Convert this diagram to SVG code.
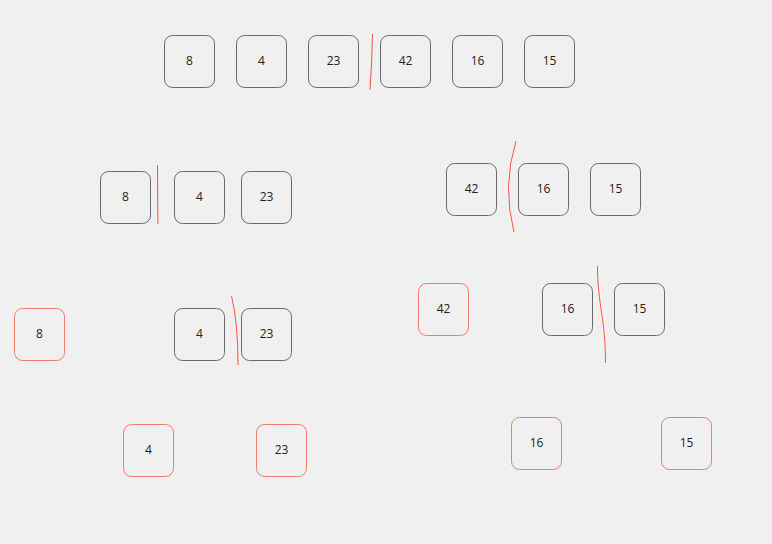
<svg xmlns="http://www.w3.org/2000/svg" width="772" height="544" viewBox="0 0 772 544">
<style>
.box{fill:#f0f0f0;stroke:#6a6a6a;stroke-width:1}
.done{fill:#f0f0f0;stroke:#f27a66;stroke-width:1}
.lbl{font-family:"Open Sans","Noto Sans",sans-serif;font-size:12px;fill:#222;text-anchor:middle;dominant-baseline:central}
.split{fill:none;stroke:#ff2a1a;stroke-width:0.8}
</style>
<rect width="772" height="544" fill="#f0f0f0"/>
<g id="row1">
<g id="n1-8"><rect class="box" x="164.5" y="35.5" width="50" height="52" rx="8"/><text class="lbl" x="189.5" y="60.5">8</text></g>
<g id="n1-4"><rect class="box" x="236.5" y="35.5" width="50" height="52" rx="8"/><text class="lbl" x="261.5" y="60.5">4</text></g>
<g id="n1-23"><rect class="box" x="308.5" y="35.5" width="50" height="52" rx="8"/><text class="lbl" x="333.5" y="60.5">23</text></g>
<g id="n1-42"><rect class="box" x="380.5" y="35.5" width="50" height="52" rx="8"/><text class="lbl" x="405.5" y="60.5">42</text></g>
<g id="n1-16"><rect class="box" x="452.5" y="35.5" width="50" height="52" rx="8"/><text class="lbl" x="477.5" y="60.5">16</text></g>
<g id="n1-15"><rect class="box" x="524.5" y="35.5" width="50" height="52" rx="8"/><text class="lbl" x="549.5" y="60.5">15</text></g>
</g>
<g id="row2">
<g id="n2-8"><rect class="box" x="100.5" y="171.5" width="50" height="52" rx="8"/><text class="lbl" x="125.5" y="196.5">8</text></g>
<g id="n2-4"><rect class="box" x="174.5" y="171.5" width="50" height="52" rx="8"/><text class="lbl" x="199.5" y="196.5">4</text></g>
<g id="n2-23"><rect class="box" x="241.5" y="171.5" width="50" height="52" rx="8"/><text class="lbl" x="266.5" y="196.5">23</text></g>
<g id="n2-42"><rect class="box" x="446.5" y="163.5" width="50" height="52" rx="8"/><text class="lbl" x="471.5" y="188.5">42</text></g>
<g id="n2-16"><rect class="box" x="518.5" y="163.5" width="50" height="52" rx="8"/><text class="lbl" x="543.5" y="188.5">16</text></g>
<g id="n2-15"><rect class="box" x="590.5" y="163.5" width="50" height="52" rx="8"/><text class="lbl" x="615.5" y="188.5">15</text></g>
</g>
<g id="row3">
<g id="n3-8"><rect class="done" x="14.5" y="308.5" width="50" height="52" rx="8"/><text class="lbl" x="39.5" y="333.5">8</text></g>
<g id="n3-4"><rect class="box" x="174.5" y="308.5" width="50" height="52" rx="8"/><text class="lbl" x="199.5" y="333.5">4</text></g>
<g id="n3-23"><rect class="box" x="241.5" y="308.5" width="50" height="52" rx="8"/><text class="lbl" x="266.5" y="333.5">23</text></g>
<g id="n3-42"><rect class="done" x="418.5" y="283.5" width="50" height="52" rx="8"/><text class="lbl" x="443.5" y="308.5">42</text></g>
<g id="n3-16"><rect class="box" x="542.5" y="283.5" width="50" height="52" rx="8"/><text class="lbl" x="567.5" y="308.5">16</text></g>
<g id="n3-15"><rect class="box" x="614.5" y="283.5" width="50" height="52" rx="8"/><text class="lbl" x="639.5" y="308.5">15</text></g>
</g>
<g id="row4">
<g id="n4-4"><rect class="done" x="123.5" y="424.5" width="50" height="52" rx="8"/><text class="lbl" x="148.5" y="449.5">4</text></g>
<g id="n4-23"><rect class="done" x="256.5" y="424.5" width="50" height="52" rx="8"/><text class="lbl" x="281.5" y="449.5">23</text></g>
<g id="n4-16"><rect class="done" x="511.5" y="417.5" width="50" height="52" rx="8"/><text class="lbl" x="536.5" y="442.5">16</text></g>
<g id="n4-15"><rect class="done" x="661.5" y="417.5" width="50" height="52" rx="8"/><text class="lbl" x="686.5" y="442.5">15</text></g>
</g>
<g id="connectors">
<path class="split" d="M372.5,34 Q372,62 370,90"/>
<path class="split" d="M157.5,165 Q157.6,195 157.9,224"/>
<path class="split" d="M516,141 Q502,186 514,232"/>
<path class="split" d="M231.5,296 Q238,322 238,365"/>
<path class="split" d="M597.5,266 C597.5,305 605.5,318 605.5,363"/>
</g>
</svg>
